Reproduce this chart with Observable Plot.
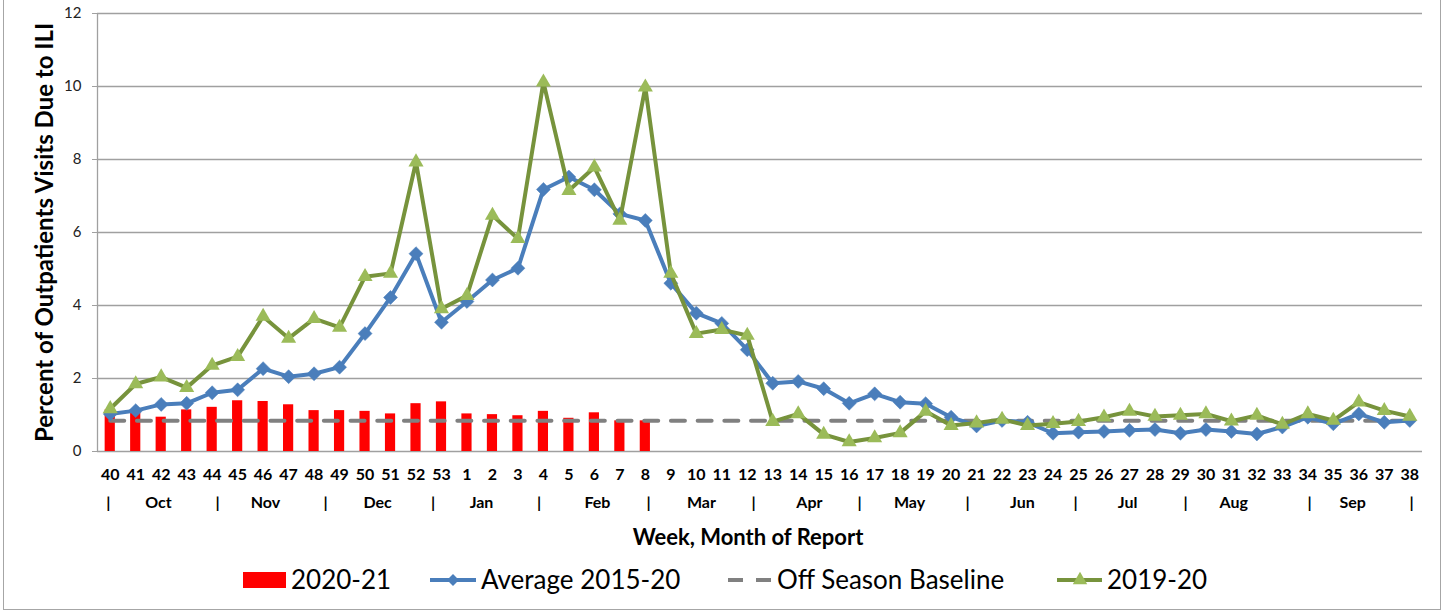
<!DOCTYPE html>
<html><head><meta charset="utf-8">
<script src="https://cdn.jsdelivr.net/npm/d3@7"></script>
<script src="https://cdn.jsdelivr.net/npm/@observablehq/plot@0.6"></script>
<style>
html,body{margin:0;padding:0;background:#fff;}
#wrap{position:relative;width:1445px;height:611px;overflow:hidden;font-family:Lato,"Open Sans",sans-serif;}
#border{position:absolute;left:3px;top:-1px;width:1438px;height:611px;border:1px solid #a6a6a6;box-sizing:border-box;}
#chart{position:absolute;left:0;top:0;}
#legend{position:absolute;left:0;top:555px;}
</style></head><body>
<div id="wrap"><div id="border"></div><div id="chart"></div><div id="legend"></div></div>
<script>
// ---- data ----
const weeks = [40,41,42,43,44,45,46,47,48,49,50,51,52,53,1,2,3,4,5,6,7,8,9,10,11,12,13,14,15,16,17,18,19,20,21,22,23,24,25,26,27,28,29,30,31,32,33,34,35,36,37,38];
const season2021 = [1.14,1.08,0.94,1.14,1.21,1.39,1.37,1.28,1.12,1.12,1.10,1.03,1.31,1.36,1.03,1.01,0.98,1.10,0.91,1.06,0.84,0.84];
const average1520 = [1.03,1.12,1.29,1.32,1.61,1.69,2.27,2.05,2.13,2.31,3.23,4.22,5.42,3.54,4.11,4.70,5.02,7.18,7.52,7.17,6.51,6.33,4.61,3.79,3.51,2.79,1.87,1.92,1.72,1.32,1.58,1.35,1.31,0.94,0.70,0.85,0.80,0.50,0.53,0.55,0.58,0.60,0.50,0.60,0.55,0.48,0.67,0.94,0.76,1.03,0.80,0.85];
const season1920 = [1.17,1.85,2.04,1.75,2.36,2.60,3.70,3.10,3.64,3.40,4.79,4.88,7.93,3.91,4.27,6.47,5.83,10.12,7.15,7.79,6.33,9.98,4.88,3.23,3.34,3.18,0.82,1.03,0.47,0.26,0.37,0.51,1.10,0.71,0.78,0.88,0.71,0.76,0.82,0.94,1.10,0.96,0.99,1.03,0.83,0.99,0.74,1.03,0.85,1.35,1.12,0.96];
const baselineValue = 0.84;
const yTicks = [0,2,4,6,8,10,12];
const months = ["Oct","Nov","Dec","Jan","Feb","Mar","Apr","May","Jun","Jul","Aug","Sep"];
const monthCenters = [1.89,6.09,10.49,14.57,19.12,23.2,27.44,31.37,35.8,39.93,44.09,48.76];
const monthSeparators = [-0.07,4.21,8.45,12.67,16.83,21.13,25.25,29.41,33.65,37.89,42.2,47.07,51.07];
const seriesNames = ["2020-21","Average 2015-20","Off Season Baseline","2019-20"];
const yTitle = "Percent of Outpatients Visits Due to ILI";
const xTitle = "Week, Month of Report";

// ---- colors ----
const RED = "#ff0000", BLUE = "#4a7ebb", GREEN_LINE = "#77933c", GREEN_MARK = "#9bbb59", GRAY = "#808080", GRID = "#a0a0a0";

const idx = weeks.map((_, i) => i);
const xDomain = [-0.5, weeks.length - 0.5];
const ix = (d, i) => i;

const chart = Plot.plot({
  width: 1445, height: 555,
  marginTop: 13, marginBottom: 104, marginLeft: 97, marginRight: 23,
  style: {fontFamily: "Lato, 'Open Sans', sans-serif", background: "transparent", overflow: "visible", color: "#000"},
  x: {type: "linear", domain: xDomain, axis: null},
  y: {domain: [0, 12], axis: null},
  marks: [
    Plot.gridY(yTicks, {stroke: GRID, strokeOpacity: 1, strokeWidth: 1.3}),
    Plot.ruleX([xDomain[0]], {stroke: GRID, strokeWidth: 1.3}),
    Plot.axisY(yTicks, {tickSize: 5, tickPadding: 11, fontSize: 15, stroke: GRID, fill: "#222", label: null}),
    Plot.rect(season2021, {x1: (d, i) => i - 0.2, x2: (d, i) => i + 0.2, y1: 0, y2: d => d, fill: RED}),
    Plot.lineY(idx, {x: i => i, y: () => baselineValue, stroke: GRAY, strokeWidth: 4, strokeDasharray: "14,12.7"}),
    Plot.line(average1520, {x: ix, y: d => d, stroke: BLUE, strokeWidth: 4, strokeLinejoin: "round"}),
    Plot.dot(average1520, {x: ix, y: d => d, symbol: "diamond2", r: 6.3, fill: BLUE, stroke: BLUE, strokeWidth: 0.5}),
    Plot.line(season1920, {x: ix, y: d => d, stroke: GREEN_LINE, strokeWidth: 4, strokeLinejoin: "round"}),
    Plot.dot(season1920, {x: ix, y: d => d, symbol: "triangle", r: 5.6, fill: GREEN_MARK, stroke: "none"}),
    Plot.text(weeks, {x: ix, text: d => String(d), frameAnchor: "bottom", lineAnchor: "middle", dy: 23, fontSize: 16, fontWeight: "bold", fill: "#000"}),
    Plot.text(months, {x: (d, i) => monthCenters[i], text: d => d, frameAnchor: "bottom", lineAnchor: "middle", dy: 51, fontSize: 16, fontWeight: "bold", fill: "#000"}),
    Plot.text(monthSeparators, {x: d => d, text: () => "|", frameAnchor: "bottom", lineAnchor: "middle", dy: 51, fontSize: 16, fontWeight: "bold", fill: "#000"}),
    Plot.text([xTitle], {frameAnchor: "bottom", lineAnchor: "middle", dy: 86, dx: -12, fontSize: 22, fontWeight: "bold", fill: "#000"}),
    Plot.text([yTitle], {frameAnchor: "left", textAnchor: "middle", lineAnchor: "middle", rotate: -90, dx: -52, fontSize: 24, fontWeight: "bold", fill: "#000"})
  ]
});
document.getElementById("chart").appendChild(chart);

// ---- legend ----
const lg = d3.select("#legend").append("svg").attr("width", 1445).attr("height", 56)
  .style("font-family", "Lato, 'Open Sans', sans-serif");
const cy = 25;
const glyphX = [243, 430, 728, 1057];
const textX = [291, 481, 777, 1107];
// 2020-21 red box
lg.append("rect").attr("x", glyphX[0]).attr("y", cy - 8).attr("width", 43).attr("height", 16).attr("fill", RED);
// average line with diamond
lg.append("line").attr("x1", glyphX[1]).attr("x2", glyphX[1] + 46).attr("y1", cy).attr("y2", cy).attr("stroke", BLUE).attr("stroke-width", 4);
lg.append("path").attr("d", d3.symbol(d3.symbolDiamond2, 90)()).attr("transform", `translate(${glyphX[1] + 23},${cy})`).attr("fill", BLUE);
// baseline dashes
lg.append("line").attr("x1", glyphX[2]).attr("x2", glyphX[2] + 43).attr("y1", cy).attr("y2", cy).attr("stroke", GRAY).attr("stroke-width", 4).attr("stroke-dasharray", "15,13");
// 2019-20 line with triangle
lg.append("line").attr("x1", glyphX[3]).attr("x2", glyphX[3] + 45).attr("y1", cy).attr("y2", cy).attr("stroke", GREEN_LINE).attr("stroke-width", 4);
lg.append("path").attr("d", d3.symbol(d3.symbolTriangle, 90)()).attr("transform", `translate(${glyphX[3] + 23},${cy})`).attr("fill", GREEN_MARK);
lg.selectAll("text.lab").data(seriesNames).join("text").attr("class", "lab")
  .attr("x", (d, i) => textX[i]).attr("y", cy).attr("dy", "0.35em")
  .attr("font-size", 26).attr("fill", "#000").text(d => d);
</script>
</body></html>
